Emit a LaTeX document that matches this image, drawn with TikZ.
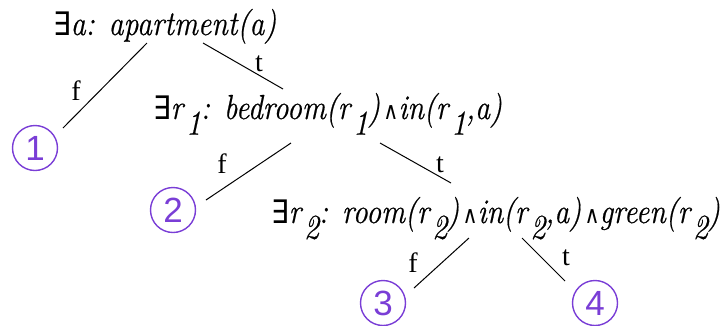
\documentclass[tikz,border=0pt]{standalone}
\usepackage{fontspec}
\usepackage{graphicx}
\setmainfont{Liberation Serif}
\newfontfamily\lmf{Latin Modern Roman}[FakeBold=0.6]
\newfontfamily\symf{DejaVu Sans}
\newfontfamily\digf{Liberation Sans}
\definecolor{circpurple}{RGB}{122,62,214}
\newcommand\ex{{\symf\fontsize{27}{29}\selectfont ∃}}
\newcommand\andop{{\symf\fontsize{20}{22}\selectfont\,∧}}
\newcommand\sbs[1]{\kern0.1em\raisebox{-0.45em}{#1}}
\newcommand\fml[1]{\scalebox{1.03}[1.2]{#1}}
\tikzset{
  formula/.style={anchor=base west, inner sep=0pt, font=\lmf\itshape\fontsize{29}{31}\selectfont},
  leaf/.style={circle, draw=circpurple, line width=1.4pt, minimum size=45pt, inner sep=0pt,
    text=circpurple, font=\digf\fontsize{35}{37}\selectfont},
  edgelabel/.style={inner sep=0pt, font=\fontsize{28}{30}\selectfont},
  conn/.style={line width=1pt}
}
\begin{document}
\begin{tikzpicture}[x=1pt,y=1pt]
\useasboundingbox (0,0) rectangle (726,-325);
\node[formula] (n1) at (53,-35) {\fml{\ex a: apartment(a)}};
\node[formula] (n2) at (153,-119) {\fml{\ex r\sbs{1}: bedroom(r\sbs{1})\andop in(r\sbs{1},a)}};
\node[formula] (n3) at (271,-223) {\fml{\ex r\sbs{2}: room(r\sbs{2})\andop in(r\sbs{2},a)\andop green(r\sbs{2})}};
\node[leaf] (c1) at (35,-148) {1};
\node[leaf] (c2) at (173,-210) {2};
\node[leaf] (c3) at (383,-303) {3};
\node[leaf] (c4) at (595,-303) {4};
\coordinate (a1) at (147,-43); \coordinate (b1) at (63,-128);
\coordinate (a2) at (203,-43); \coordinate (b2) at (283,-89);
\coordinate (a3) at (291,-143); \coordinate (b3) at (206,-200);
\coordinate (a4) at (380,-143); \coordinate (b4) at (451,-183);
\coordinate (a5) at (469,-238); \coordinate (b5) at (414,-288);
\coordinate (a6) at (522,-238); \coordinate (b6) at (565,-281);
\draw[conn] (a1) -- (b1);
\draw[conn] (a2) -- (b2);
\draw[conn] (a3) -- (b3);
\draw[conn] (a4) -- (b4);
\draw[conn] (a5) -- (b5);
\draw[conn] (a6) -- (b6);
\node[edgelabel] (l1) at (76,-91) {f};
\node[edgelabel] (l2) at (259,-64) {t};
\node[edgelabel] (l3) at (222,-164) {f};
\node[edgelabel] (l4) at (440,-165) {t};
\node[edgelabel] (l5) at (413,-263) {f};
\node[edgelabel] (l6) at (566,-258) {t};
\end{tikzpicture}
\end{document}
